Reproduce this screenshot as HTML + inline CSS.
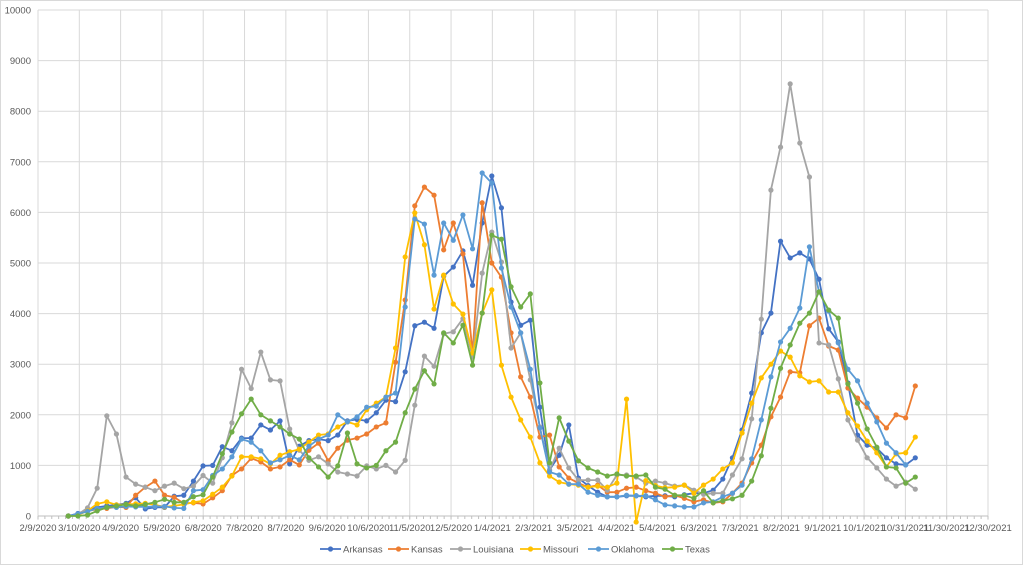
<!DOCTYPE html>
<html><head><meta charset="utf-8"><style>
html,body{margin:0;padding:0;background:#fff;}
svg{display:block;font-family:"Liberation Sans",sans-serif;}
</style></head><body>
<svg id="c" width="1023" height="565" xmlns="http://www.w3.org/2000/svg">
<rect x="0.5" y="0.5" width="1022" height="564" fill="#fff" stroke="#d9d9d9"/>
<g id="grid"></g><g id="series"></g><g id="labels"></g><g id="legend"></g>
</svg>
<script>
var NS="http://www.w3.org/2000/svg";
function el(p,t,a,txt){var e=document.createElementNS(NS,t);for(var k in a)e.setAttribute(k,a[k]);if(txt!=null)e.textContent=txt;p.appendChild(e);return e;}
var X0=38,X1=988,Y0=516,YT=10;
function Y(v){return Y0-v*(Y0-YT)/10000;}
var g=document.getElementById('grid'),L=document.getElementById('labels');
for(var i=0;i<=10;i++){var y=Y(i*1000);el(g,'line',{x1:X0,x2:X1,y1:y,y2:y,stroke:'#d9d9d9','stroke-width':1});
el(L,'text',{x:31,y:y+3.5,'text-anchor':'end','font-size':'9.5',fill:'#595959'},String(i*1000));}
var dates=["2/9/2020","3/10/2020","4/9/2020","5/9/2020","6/8/2020","7/8/2020","8/7/2020","9/6/2020","10/6/2020","11/5/2020","12/5/2020","1/4/2021","2/3/2021","3/5/2021","4/4/2021","5/4/2021","6/3/2021","7/3/2021","8/2/2021","9/1/2021","10/1/2021","10/31/2021","11/30/2021","12/30/2021"];
var sp=(X1-X0)/23;
for(var i=0;i<24;i++){var x=X0+i*sp;el(g,'line',{x1:x,x2:x,y1:YT,y2:Y0+4,stroke:'#d9d9d9','stroke-width':1});
el(L,'text',{x:x,y:531,'text-anchor':'middle','font-size':'9.5',fill:'#595959'},dates[i]);}
for(var x=X0;x<=X1+0.1;x+=sp/6){el(g,'line',{x1:x,x2:x,y1:Y0,y2:Y0+3,stroke:'#bfbfbf','stroke-width':1});}
el(g,'line',{x1:X0,x2:X1,y1:Y0,y2:Y0,stroke:'#bfbfbf','stroke-width':1});
var D={
Arkansas:["#4472C4",[0,50,120,170,200,220,250,360,140,170,170,390,410,690,990,1000,1370,1290,1540,1540,1800,1700,1880,1030,1380,1490,1520,1490,1600,1880,1910,1880,2040,2290,2260,2850,3760,3830,3710,4740,4920,5240,4560,5790,6720,6090,4230,3770,3870,2150,910,1200,1800,750,600,470,380,380,400,400,380,400,400,380,420,450,450,510,730,1150,1700,2430,3620,4010,5430,5100,5200,5080,4680,3700,3440,2630,1600,1400,1340,1150,1030,1010,1150]],
Kansas:["#ED7D31",[0,30,100,130,150,180,170,410,570,690,410,370,250,260,240,360,500,800,930,1140,1070,930,970,1110,1010,1300,1440,1090,1340,1500,1540,1620,1760,1840,3040,4270,6130,6500,6340,5260,5790,5180,3220,6190,5000,4720,3620,2750,2350,1560,1600,970,750,650,570,610,470,470,550,570,500,450,380,410,350,280,320,260,280,450,650,1050,1400,1960,2350,2850,2830,3760,3910,3360,3280,2530,2330,2150,1940,1740,2000,1940,2570]],
Louisiana:["#A5A5A5",[0,30,160,550,1980,1620,770,630,570,500,590,650,540,590,800,650,1150,1840,2900,2520,3240,2690,2670,1720,1300,1100,1170,1030,870,830,790,990,930,1000,870,1100,2190,3160,2960,3600,3640,3900,3140,4800,5610,5020,3320,3620,2690,1760,900,1340,950,710,710,710,510,810,810,770,650,690,650,590,610,510,430,450,450,810,1130,1920,3890,6440,7290,8540,7370,6700,3420,3380,2710,1900,1500,1150,950,730,590,670,530]],
Missouri:["#FFC000",[0,20,100,240,280,220,230,240,250,220,180,200,230,270,300,430,570,790,1170,1170,1130,1030,1200,1270,1320,1460,1600,1620,1760,1860,1800,2100,2230,2350,3320,5120,5990,5360,4090,4760,4190,3990,3220,4010,4470,2980,2350,1900,1560,1050,790,670,630,610,570,590,570,650,2310,-120,700,600,560,570,610,450,610,730,930,1050,1640,2230,2730,3000,3260,3140,2770,2650,2670,2450,2450,2040,1780,1480,1250,970,1230,1250,1560]],
Oklahoma:["#5B9BD5",[0,40,90,150,170,170,190,180,180,190,190,160,150,500,520,800,930,1170,1520,1460,1290,1050,1110,1200,1110,1380,1520,1600,2000,1860,1960,2150,2170,2350,2430,4130,5870,5770,4760,5790,5450,5950,5280,6780,6580,4900,4130,3620,2900,1740,870,810,630,630,470,410,380,380,410,400,400,320,220,200,180,180,260,280,380,450,610,1130,1900,2750,3440,3710,4110,5320,4430,4050,3420,2900,2670,2230,1860,1440,1250,1010]],
Texas:["#70AD47",[0,0,20,100,170,200,230,200,230,270,330,270,270,380,420,770,1230,1660,2020,2310,2000,1880,1760,1620,1520,1150,970,770,990,1640,1030,950,1000,1290,1460,2040,2510,2870,2610,3620,3420,3770,2980,4010,5550,5470,4530,4130,4390,2630,1050,1940,1480,1090,950,870,790,830,790,790,810,570,530,410,410,350,500,260,300,340,410,690,1190,2130,2920,3380,3810,4010,4430,4070,3910,2610,2230,1720,1360,970,950,650,770]]
};
var S=document.getElementById('series');
var xs=68.3,st=9.625;
for(var k in D){var c=D[k][0],v=D[k][1],pts=[];
for(var i=0;i<v.length;i++)pts.push((xs+i*st).toFixed(1)+","+Y(v[i]).toFixed(1));
el(S,'polyline',{points:pts.join(' '),fill:'none',stroke:c,'stroke-width':1.8,'stroke-linejoin':'round'});
for(var i=0;i<v.length;i++)el(S,'circle',{cx:xs+i*st,cy:Y(v[i]),r:2.6,fill:c});}
var LG=document.getElementById('legend');
var leg=[["Arkansas",320],["Kansas",388],["Louisiana",450],["Missouri",520],["Oklahoma",588],["Texas",662]];
leg.forEach(function(l){var c=D[l[0]][0];
el(LG,'line',{x1:l[1],x2:l[1]+21,y1:549,y2:549,stroke:c,'stroke-width':1.8});
el(LG,'circle',{cx:l[1]+10.5,cy:549,r:2.6,fill:c});
el(LG,'text',{x:l[1]+23,y:552.5,'font-size':'9.5',fill:'#595959'},l[0]);});
</script>
</body></html>
